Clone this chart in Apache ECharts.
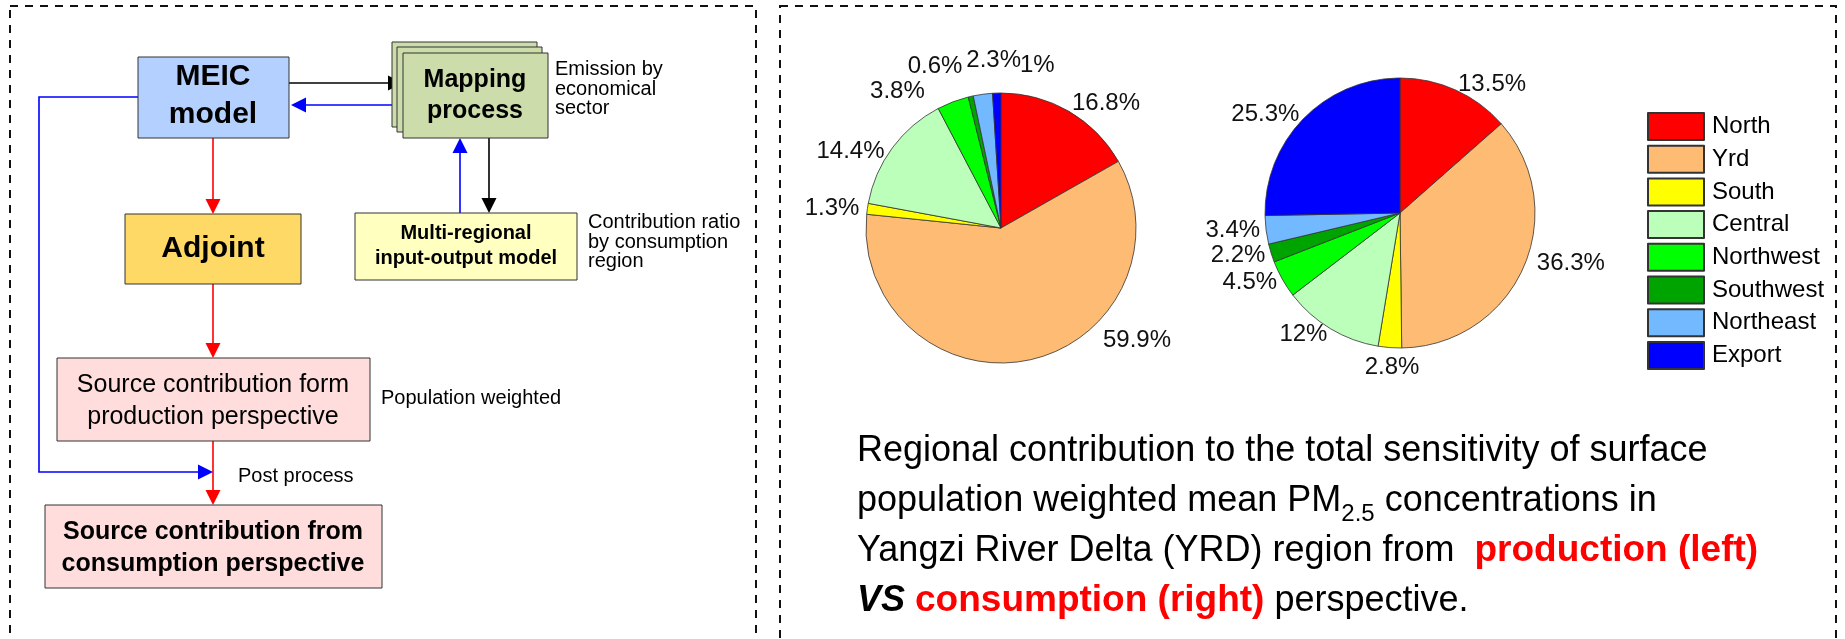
<!DOCTYPE html>
<html>
<head>
<meta charset="utf-8">
<script src="https://cdn.jsdelivr.net/npm/echarts@6/dist/echarts.min.js"></script>
<style>
  html, body { margin: 0; padding: 0; background: #fff; }
  #main { width: 1845px; height: 639px; }
</style>
</head>
<body>
<div id="main"></div>
<script>
// regional contribution (%) of the YRD PM2.5 sensitivity
var regions = ["North", "Yrd", "South", "Central", "Northwest", "Southwest", "Northeast", "Export"];
var productionShare = [16.8, 59.9, 1.3, 14.4, 3.8, 0.6, 2.3, 1];
var consumptionShare = [13.5, 36.3, 2.8, 12, 4.5, 2.2, 3.4, 25.3];

var regionColors = ["#FF0000", "#FDBB74", "#FFFF00", "#BBFFBB", "#00FF00", "#00A400", "#72B9FF", "#0000FF"];
var FONT = "'Liberation Sans', Arial, sans-serif";

// label nudges so crowded labels sit where the figure puts them
var prodLabelShift = [[0, -3], [73, -26], [-2, 0], [-3, 7], [-26, -5], [-7, -24], [39, -28], [58, -22]];
var consLabelShift = [[0, 0], [8, -7], [30, 14], [0, 0], [0, 0], [0, 0], [0, 0], [0, 0]];

var chart = echarts.init(document.getElementById("main"));

function pieSeries(name, values, center, shifts) {
  return {
    type: "pie",
    name: name,
    center: center,
    radius: 135,
    startAngle: 90,
    clockwise: true,
    avoidLabelOverlap: false,
    animation: false,
    emphasis: { disabled: true },
    itemStyle: { borderColor: "#333", borderWidth: 0.8 },
    label: {
      show: true,
      position: "outside",
      formatter: "{c}%",
      fontSize: 24,
      fontFamily: FONT,
      color: "#111",
      distanceToLabelLine: 0
    },
    labelLine: { show: false, length: 6, length2: 0 },
    labelLayout: function (p) {
      var s = shifts[p.dataIndex];
      return { dx: s[0], dy: s[1] };
    },
    data: regions.map(function (r, i) {
      return { name: r, value: values[i] };
    })
  };
}

// ---- flowchart helpers ----
function box(x, y, w, h, fill) {
  return {
    type: "rect", silent: true, z: 5,
    shape: { x: x, y: y, width: w, height: h },
    style: { fill: fill, stroke: "#333", lineWidth: 1 }
  };
}
function txt(x, y, text, size, weight, align, lh) {
  return {
    type: "text", silent: true, z: 10, x: x, y: y,
    style: {
      text: text, fill: "#000", fontSize: size, fontWeight: weight || "normal",
      fontFamily: FONT, align: align || "center", verticalAlign: "middle",
      lineHeight: lh || size * 1.2
    }
  };
}
function arrow(points, color) {
  var n = points.length;
  var a = points[n - 2], b = points[n - 1];
  var dx = b[0] - a[0], dy = b[1] - a[1];
  var len = Math.sqrt(dx * dx + dy * dy);
  var ux = dx / len, uy = dy / len;
  var hl = 15, hw = 7.5;
  var base = [b[0] - ux * hl, b[1] - uy * hl];
  var pts = points.slice(0, n - 1).concat([base]);
  return [
    { type: "polyline", silent: true, z: 3, shape: { points: pts },
      style: { stroke: color, lineWidth: 1.6, fill: null } },
    { type: "polygon", silent: true, z: 4,
      shape: { points: [b, [base[0] - uy * hw, base[1] + ux * hw], [base[0] + uy * hw, base[1] - ux * hw]] },
      style: { fill: color } }
  ];
}

var RED = "#FF0000", BLUE = "#0000FF", BLACK = "#000000";

var graphics = [
  // dashed panels
  { type: "rect", silent: true, shape: { x: 10, y: 6, width: 746, height: 700 },
    style: { fill: null, stroke: "#111", lineWidth: 2, lineDash: [8, 7] } },
  { type: "rect", silent: true, shape: { x: 780, y: 6, width: 1056, height: 700 },
    style: { fill: null, stroke: "#111", lineWidth: 2, lineDash: [8, 7] } },

  box(138, 57, 151, 81, "#B4D0FF"),
  box(392, 42, 145, 85, "#CCDCAA"),
  box(397, 47, 145, 85, "#CCDCAA"),
  box(403, 53, 145, 85, "#CCDCAA"),
  box(125, 214, 176, 70, "#FFD966"),
  box(355, 213, 222, 67, "#FFFFC0"),
  box(57, 358, 313, 83, "#FFDDDD"),
  box(45, 505, 337, 83, "#FFDDDD"),

  txt(213, 96, "MEIC\nmodel", 30, "bold", "center", 38),
  txt(475, 96, "Mapping\nprocess", 25, "bold", "center", 31),
  txt(213, 249, "Adjoint", 30, "bold"),
  txt(466, 246, "Multi-regional\ninput-output model", 20, "bold", "center", 25),
  txt(213, 401, "Source contribution form\nproduction perspective", 25, "normal", "center", 32),
  txt(213, 548, "Source contribution from\nconsumption perspective", 25, "bold", "center", 32),

  txt(555, 89, "Emission by\neconomical\nsector", 20, "normal", "left", 19.5),
  txt(588, 242, "Contribution ratio\nby consumption\nregion", 20, "normal", "left", 19.5),
  txt(381, 398, "Population weighted", 20, "normal", "left"),
  txt(238, 476, "Post process", 20, "normal", "left"),

  // caption
  {
    type: "text", silent: true, x: 857, y: 426,
    style: {
      fontFamily: FONT, align: "left", verticalAlign: "top",
      text: "{n|Regional contribution to the total sensitivity of surface}\n" +
            "{n|population weighted mean PM}{s|2.5}{n| concentrations in}\n" +
            "{n|Yangzi River Delta (YRD) region from  }{r|production (left)}\n" +
            "{v|VS}{n| }{r|consumption (right)}{n| perspective.}",
      rich: {
        n: { fontSize: 36, lineHeight: 50, fill: "#000", fontFamily: FONT },
        r: { fontSize: 37, lineHeight: 50, fill: "#FF0000", fontWeight: "bold", fontFamily: FONT },
        v: { fontSize: 36, lineHeight: 50, fill: "#000", fontWeight: "bold", fontStyle: "italic", fontFamily: FONT },
        s: { fontSize: 24, lineHeight: 28, fill: "#000", verticalAlign: "bottom", fontFamily: FONT }
      }
    }
  }
];

graphics = graphics
  .concat(arrow([[289, 83], [403, 83]], BLACK))
  .concat(arrow([[398, 105], [291, 105]], BLUE))
  .concat(arrow([[138, 97], [39, 97], [39, 472], [213, 472]], BLUE))
  .concat(arrow([[213, 138], [213, 214]], RED))
  .concat(arrow([[213, 284], [213, 358]], RED))
  .concat(arrow([[213, 441], [213, 505]], RED))
  .concat(arrow([[460, 213], [460, 138]], BLUE))
  .concat(arrow([[489, 138], [489, 213]], BLACK));

var option = {
  animation: false,
  backgroundColor: "#fff",
  color: regionColors,
  legend: {
    orient: "vertical",
    left: 1642,
    top: 107,
    itemWidth: 56,
    itemHeight: 27,
    itemGap: 3.7,
    icon: "rect",
    selectedMode: false,
    data: regions,
    textStyle: { fontSize: 24, fontFamily: FONT, color: "#000", padding: [0, 0, 0, 3] }
  },
  series: [
    pieSeries("Production", productionShare, [1001, 228], prodLabelShift),
    pieSeries("Consumption", consumptionShare, [1400, 213], consLabelShift)
  ],
  graphic: graphics
};

option && chart.setOption(option);
</script>
</body>
</html>
